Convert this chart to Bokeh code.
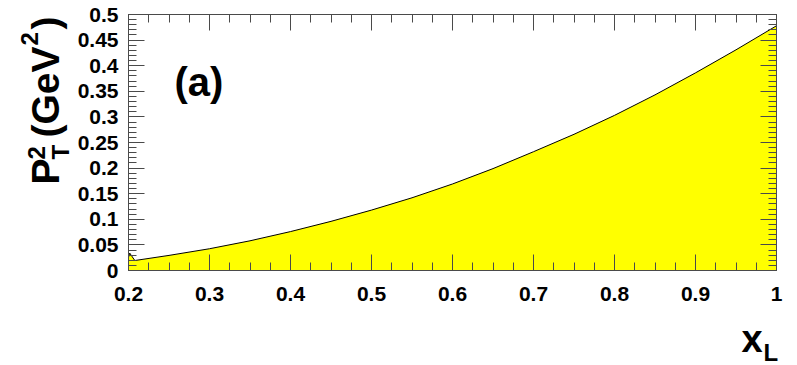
import numpy as np
from bokeh.plotting import figure
from bokeh.models import Label, LinearAxis, FixedTicker, Range1d
from bokeh.embed import file_html
from bokeh.resources import INLINE

# Longitudinal momentum fraction and the corresponding P_T^2 bound (GeV^2)
xl = [0.2, 0.2015, 0.2078, 0.25, 0.3, 0.35, 0.4, 0.45, 0.5, 0.55, 0.6,
      0.65, 0.7, 0.75, 0.8, 0.85, 0.9, 0.95, 1.0]
pt2 = [0.026, 0.034, 0.0195, 0.0295, 0.0425, 0.058, 0.076, 0.096, 0.118,
       0.142, 0.169, 0.199, 0.232, 0.266, 0.303, 0.343, 0.386, 0.431, 0.478]

# Axis ticks and their labels
x_ticks = [0.2, 0.3, 0.4, 0.5, 0.6, 0.7, 0.8, 0.9, 1.0]
x_tick_labels = ["0.2", "0.3", "0.4", "0.5", "0.6", "0.7", "0.8", "0.9", "1"]
y_ticks = [0.0, 0.05, 0.1, 0.15, 0.2, 0.25, 0.3, 0.35, 0.4, 0.45, 0.5]
y_tick_labels = ["0", "0.05", "0.1", "0.15", "0.2", "0.25", "0.3", "0.35",
                 "0.4", "0.45", "0.5"]

X0, X1 = 0.2, 1.0
Y0, Y1 = 0.0, 0.5

W, H = 797, 365
# pixel box of the plotting frame inside the canvas
FL, FR, FT, FB = 128, 776, 14, 270
sx = (FR - FL) / (X1 - X0)
sy = (FB - FT) / (Y1 - Y0)

FONT = "Liberation Sans"
FRAME_COLOR = "#4a4a4a"

# The drawing area spans the whole canvas so titles can sit around the frame;
# the axes are pinned to the frame edges with fixed_location.
p = figure(width=W, height=H, output_backend="svg", toolbar_location=None,
           x_range=Range1d(X0 - FL / sx, X0 + (W - FL) / sx),
           y_range=Range1d(Y0 - (H - FB) / sy, Y0 + FB / sy),
           min_border=0, x_axis_location=None, y_axis_location=None)
p.background_fill_color = "white"
p.border_fill_color = "white"
p.grid.visible = False
p.outline_line_color = None

x_minor = [float(v) for v in np.round(np.arange(X0, X1 + 1e-4, 0.025), 4)]
y_minor = [float(v) for v in np.round(np.arange(Y0, Y1 + 1e-4, 0.01), 4)]


def make_axis(ticks, minor, bounds, loc, labels=None):
    ax = LinearAxis(ticker=FixedTicker(ticks=ticks, minor_ticks=minor),
                    bounds=bounds, fixed_location=loc)
    ax.major_tick_in = 16
    ax.major_tick_out = 0
    ax.minor_tick_in = 8
    ax.minor_tick_out = 0
    ax.axis_line_color = FRAME_COLOR
    ax.axis_line_width = 1
    ax.major_tick_line_color = FRAME_COLOR
    ax.minor_tick_line_color = FRAME_COLOR
    ax.major_label_text_font = FONT
    ax.major_label_text_font_style = "bold"
    ax.major_label_text_font_size = "21px"
    if labels is None:
        ax.major_label_text_color = None
    else:
        ax.major_label_text_color = "black"
        ax.major_label_overrides = dict(zip(ticks, labels))
    return ax


xb = make_axis(x_ticks, x_minor, (X0, X1), Y0, x_tick_labels)
xb.major_label_standoff = 16
p.add_layout(xb, "below")

xt = make_axis(x_ticks, x_minor, (X0, X1), Y1)
p.add_layout(xt, "above")

yl = make_axis(y_ticks, y_minor, (Y0, Y1), X0, y_tick_labels)
yl.major_label_standoff = 10
p.add_layout(yl, "left")

yr = make_axis(y_ticks, y_minor, (Y0, Y1), X1)
p.add_layout(yr, "right")

# Allowed region under the kinematic curve
p.varea(x=xl, y1=0, y2=pt2, fill_color="#ffff00")
p.line(x=xl, y=pt2, line_color="black", line_width=1)

BASELINE_SHIFT = 0.32  # em, lifts the drawn glyphs onto the requested baseline


def add_text(cx, cy, txt, size, rotated=False):
    # cx, cy: baseline start in canvas pixels from the top-left corner
    if rotated:
        cx -= BASELINE_SHIFT * size
    else:
        cy -= BASELINE_SHIFT * size
    p.add_layout(Label(x=cx, y=H - cy, x_units="screen", y_units="screen",
                       text=txt, angle=np.pi / 2 if rotated else 0.0,
                       text_font=FONT, text_font_style="bold",
                       text_font_size=f"{size}px", text_color="black",
                       text_align="left", text_baseline="alphabetic"))


# y-axis title: P_T^2 (GeV^2), reading upward
add_text(57, 184, "P", 39, True)
add_text(44, 159, "2", 24, True)
add_text(68, 159, "T", 24, True)
add_text(57, 137, "(GeV", 39, True)
add_text(37, 45, "2", 24, True)
add_text(57, 29, ")", 39, True)

# x-axis title: x_L
add_text(741, 351, "x", 38)
add_text(763, 360, "L", 24)

# panel tag
add_text(174, 94, "(a)", 40)

open("out.html", "w").write(file_html(p, INLINE))
